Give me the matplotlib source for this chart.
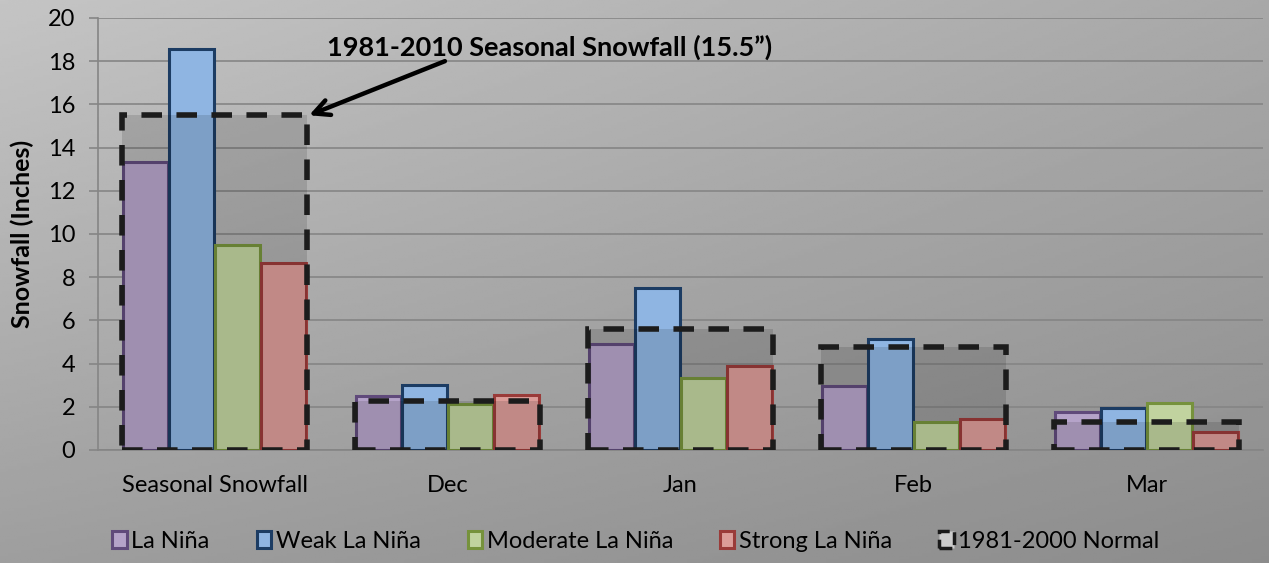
import numpy as np
import matplotlib.pyplot as plt
from matplotlib.patches import Rectangle, Patch

plt.rcParams['font.family'] = ['Lato', 'DejaVu Sans']

categories = ['Seasonal Snowfall', 'Dec', 'Jan', 'Feb', 'Mar']
la_nina = [13.35, 2.5, 4.9, 2.98, 1.77]
weak = [18.55, 3.02, 7.5, 5.14, 1.93]
moderate = [9.5, 2.15, 3.33, 1.31, 2.19]
strong = [8.66, 2.55, 3.89, 1.45, 0.85]
normal = [15.5, 2.27, 5.6, 4.78, 1.28]

series = [
    ('La Niña', la_nina, '#b5a3c9', '#604a7b'),
    ('Weak La Niña', weak, '#8fb5e2', '#1c3c63'),
    ('Moderate La Niña', moderate, '#c1d39f', '#76923c'),
    ('Strong La Niña', strong, '#dc9d99', '#9a3b39'),
]

W, H = 1269, 563
fig = plt.figure(figsize=(W / 100, H / 100), dpi=100)

# gray diagonal gradient background
bg = fig.add_axes([0, 0, 1, 1], zorder=-5)
yy, xx = np.mgrid[0:1:200j, 0:1:400j]
grad = 0.77 - 0.11 * xx - 0.15 * yy + 0.04 * xx * yy
bg.imshow(grad, cmap='gray', vmin=0, vmax=1, aspect='auto', extent=[0, 1, 0, 1], origin='upper')
bg.axis('off')

ax = fig.add_axes([98 / W, (H - 450) / H, (1263 - 98) / W, (450 - 18) / H])
ax.patch.set_alpha(0)

x = np.arange(len(categories))
group = 0.79
bw = group / 4
for i, (name, vals, fc, ec) in enumerate(series):
    ax.bar(x - group / 2 + bw * (i + 0.5), vals, width=bw * 0.97, color=fc, edgecolor=ec,
           linewidth=2.2, label=name, zorder=3)

for xi, n in zip(x, normal):
    ax.add_patch(Rectangle((xi - group / 2, 0), group, n, facecolor='black', alpha=0.12,
                           edgecolor='none', zorder=4))
    ax.add_patch(Rectangle((xi - group / 2, 0), group, n, facecolor='none', edgecolor='#1c1c1c',
                           linewidth=4, linestyle=(0, (3.7, 2.6)), zorder=5))

ax.set_xlim(-0.5, len(categories) - 0.5)
ax.set_ylim(0, 20)
ax.set_yticks(range(0, 21, 2))
ax.set_xticks(x)
ax.set_xticklabels(categories, fontsize=17)
ax.tick_params(axis='y', labelsize=17, length=6.5, color='#858585', width=1.2, pad=10)
ax.tick_params(axis='x', length=0, pad=18)
ax.grid(axis='y', color='#858585', linewidth=1.2, zorder=0)
for s in ['top', 'right']:
    ax.spines[s].set_visible(False)
ax.spines['left'].set_color('#858585')
ax.spines['left'].set_linewidth(1.2)
ax.spines['bottom'].set_color('#858585')
ax.spines['bottom'].set_linewidth(1.2)
ax.set_ylabel('Snowfall (Inches)', fontsize=18, fontweight='bold')
ax.yaxis.set_label_coords(-0.055, 0.5)

ax.annotate('', xy=(0.395, 15.45), xytext=(1.0, 18.05),
            arrowprops=dict(arrowstyle='->', color='black', lw=3.2, mutation_scale=28), zorder=6)
ax.text(1.44, 18.65, '1981-2010 Seasonal Snowfall (15.5\u201d)', fontsize=19.5, fontweight='bold',
        ha='center', va='center', zorder=6)

handles, labels = ax.get_legend_handles_labels()
handles.append(Patch(facecolor='#cccccc', edgecolor='#1a1a1a', linewidth=2.5, linestyle='--'))
labels.append('1981-2000 Normal')
fig.legend(handles, labels, loc='center', bbox_to_anchor=(636 / W, 1 - 541 / H), ncol=5,
           frameon=False, fontsize=17, handlelength=0.6, handleheight=0.7, handletextpad=0.2,
           columnspacing=2.0)

fig.savefig('out.png', dpi=100)
